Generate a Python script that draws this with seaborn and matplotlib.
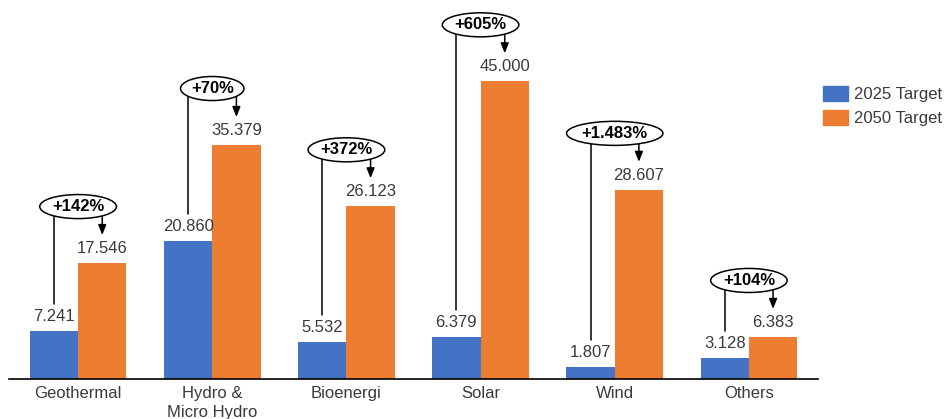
import pandas as pd
import matplotlib
matplotlib.use("Agg")
import matplotlib.pyplot as plt
import seaborn as sns

categories = ["Geothermal", "Hydro &\nMicro Hydro", "Bioenergi", "Solar", "Wind", "Others"]
target_2025 = [7.241, 20.860, 5.532, 6.379, 1.807, 3.128]
target_2050 = [17.546, 35.379, 26.123, 45.000, 28.607, 6.383]
growth = ["+142%", "+70%", "+372%", "+605%", "+1.483%", "+104%"]
series = ["2025 Target", "2050 Target"]
colors = ["#4472C4", "#ED7D31"]

df = pd.DataFrame({
    "category": categories * 2,
    "value": target_2025 + target_2050,
    "target": [series[0]] * len(categories) + [series[1]] * len(categories),
})

sns.set_theme(style="white")
plt.rcParams["font.family"] = ["Liberation Sans", "DejaVu Sans"]
text_color = "#3a3a3a"

fig = plt.figure(figsize=(9.46, 4.19), dpi=100)
ax = fig.add_axes([9 / 946, 40 / 419, 809 / 946, 379 / 419])

sns.barplot(data=df, x="category", y="value", hue="target", palette=colors,
            width=0.72, saturation=1, linewidth=0, ax=ax, legend=True)

ax.set_xlim(-0.515, 5.515)
ax.set_ylim(0, 57.25)
ax.set_xlabel("")
ax.set_ylabel("")
ax.set_yticks([])
for side in ["left", "right", "top"]:
    ax.spines[side].set_visible(False)
ax.spines["bottom"].set_color("black")
ax.spines["bottom"].set_linewidth(1.2)
ax.tick_params(axis="x", length=0, labelsize=12, labelcolor=text_color, pad=5)
for lbl in ax.get_xticklabels():
    lbl.set_linespacing(1.35)

# value labels on top of the bars
for cont in ax.containers:
    ax.bar_label(cont, labels=[f"{b.get_height():.3f}" for b in cont],
                 padding=5, fontsize=12, color=text_color)

# growth callouts: ellipse, line down to 2025 label, arrow down to 2050 label
bars_a = list(ax.containers[0])
bars_b = list(ax.containers[1])
for i, (ba, bb) in enumerate(zip(bars_a, bars_b)):
    xa = ba.get_x() + ba.get_width() / 2
    xb = bb.get_x() + bb.get_width() / 2
    va, vb = ba.get_height(), bb.get_height()
    ye = vb + 8.5
    xc = (xa + xb) / 2
    ax.plot([xa, xa], [ye, va + 4.1], color="black", lw=1.1, zorder=3)
    ax.annotate("", xy=(xb, vb + 4.2), xytext=(xb, ye),
                arrowprops=dict(arrowstyle="-|>,head_length=0.5,head_width=0.2",
                                color="black", lw=1.1, shrinkA=0, shrinkB=0),
                zorder=3)
    ax.text(xc, ye, growth[i], ha="center", va="center", fontsize=12,
            fontweight="bold", color="black", zorder=5,
            bbox=dict(boxstyle="ellipse,pad=0.06", fc="white", ec="black", lw=1.1))

ax.get_legend().remove()
handles = [plt.Rectangle((0, 0), 1, 1, color=c) for c in colors]
fig.legend(handles, series, loc="upper left", bbox_to_anchor=(823 / 946, 1 - 86 / 419),
           frameon=False, fontsize=12, handlelength=1.5, handleheight=1.0,
           handletextpad=0.35, labelspacing=0.45, borderpad=0, borderaxespad=0,
           labelcolor=text_color)

fig.savefig("out.png", dpi=100)
